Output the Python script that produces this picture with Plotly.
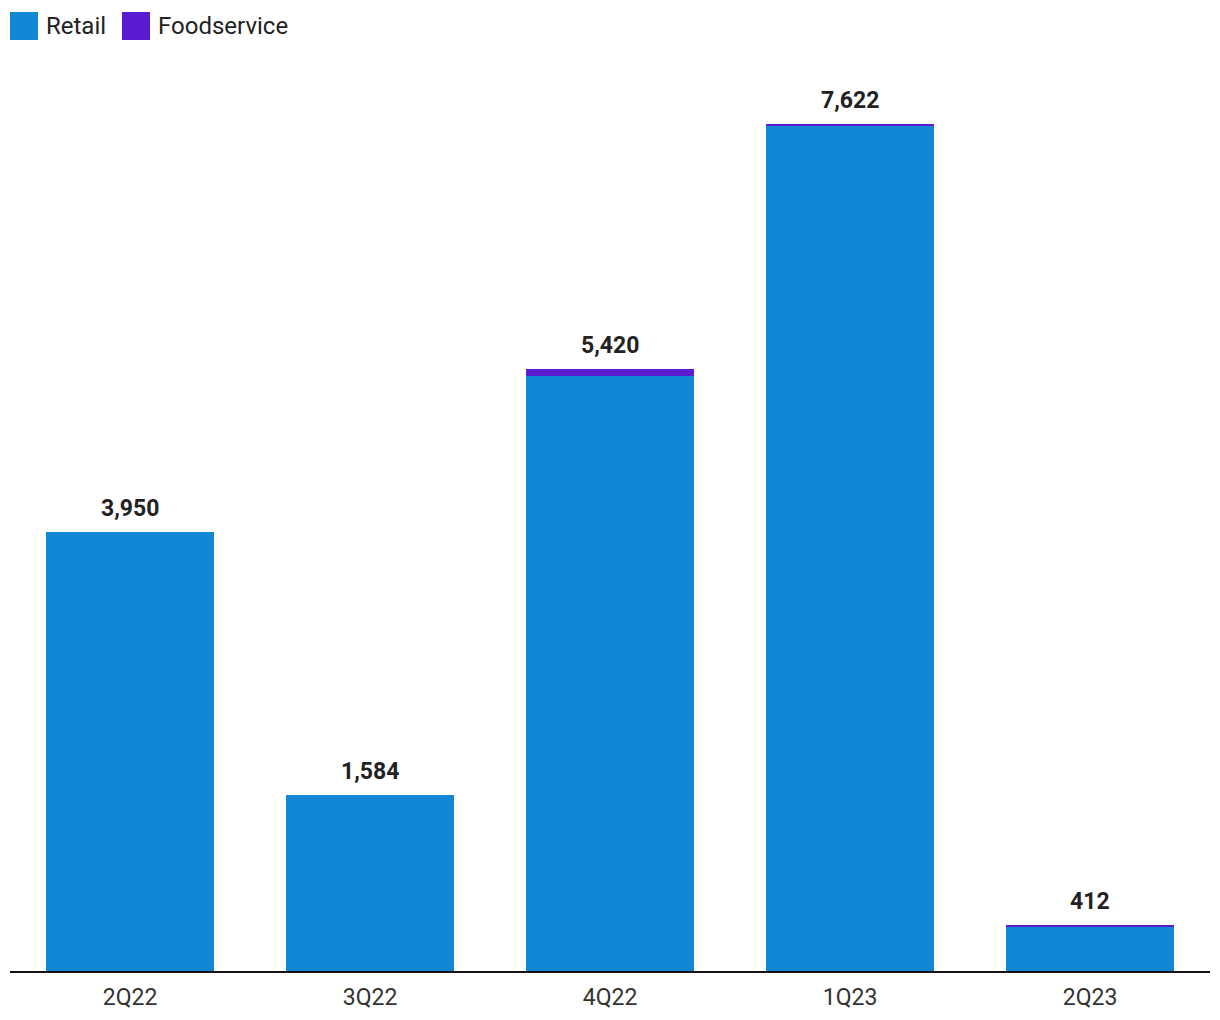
import plotly.graph_objects as go

categories = ["2Q22", "3Q22", "4Q22", "1Q23", "2Q23"]
retail = [3950, 1584, 5350, 7612, 404]
foodservice = [0, 0, 70, 10, 8]
totals = [r + f for r, f in zip(retail, foodservice)]

RETAIL_COLOR = "#1287D6"
FOOD_COLOR = "#5B1BD0"

fig = go.Figure()
fig.add_trace(go.Bar(x=categories, y=retail, name="Retail", marker_color=RETAIL_COLOR,
                     marker_line_width=0))
fig.add_trace(go.Bar(x=categories, y=foodservice, name="Foodservice", marker_color=FOOD_COLOR,
                     marker_line_width=0))

for c, t in zip(categories, totals):
    fig.add_annotation(x=c, y=t, text=f"<b>{t:,}</b>", showarrow=False, yanchor="bottom",
                       yshift=8, font=dict(family="Roboto", size=23, color="#222222"))

# page is offset by 8px body margin; plot area in page: x 10..1210, y 82..971
OFF = 8
W, H, X0, Y1 = 1200, 889, 10 - OFF, 971 - OFF
def px(x):
    return (x - OFF - X0) / W
def py(y):
    return (Y1 - (y - OFF)) / H

legend_items = [("Retail", RETAIL_COLOR, 10), ("Foodservice", FOOD_COLOR, 122)]
for name, col, x in legend_items:
    fig.add_shape(type="rect", xref="paper", yref="paper", x0=px(x), x1=px(x + 28),
                  y0=py(40), y1=py(12), fillcolor=col, line_width=0)
    fig.add_annotation(xref="paper", yref="paper", x=px(x + 34), y=py(26), text=name,
                       showarrow=False, xanchor="left", yanchor="middle",
                       font=dict(family="Roboto", size=24, color="#222222"))

fig.update_layout(
    barmode="stack",
    bargap=0.3,
    width=1220, height=1020,
    margin=dict(l=2, r=18, t=74, b=57),
    plot_bgcolor="white", paper_bgcolor="white",
    showlegend=False,
    font=dict(family="Roboto", size=20, color="#333333"),
    xaxis=dict(showline=True, linecolor="#111111", linewidth=2, ticks="",
               ticklabelstandoff=4,
               tickfont=dict(size=23, color="#333333")),
    yaxis=dict(visible=False, range=[0, 8000], showgrid=False),
)

fig.write_html("out.html")
